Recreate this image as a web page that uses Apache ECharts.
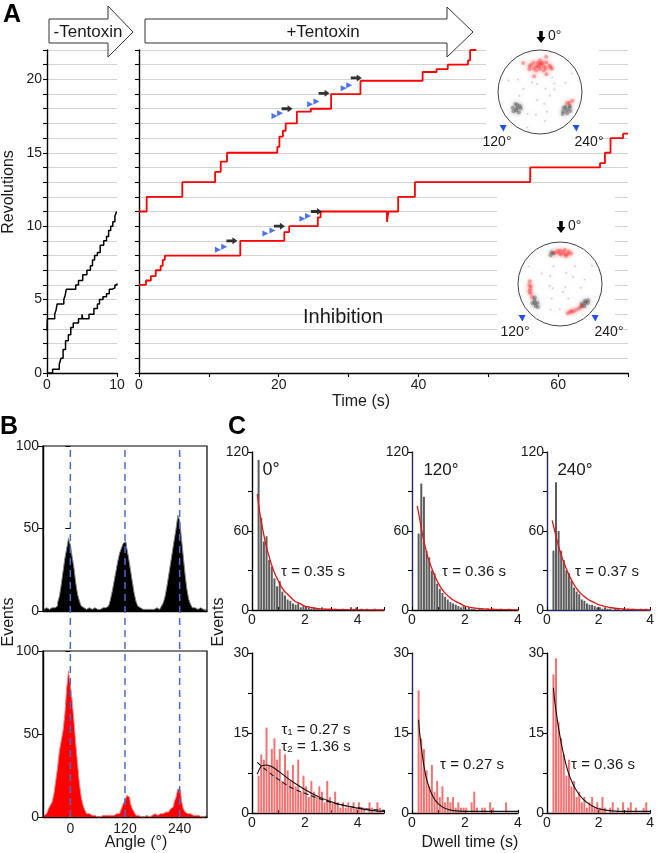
<!DOCTYPE html>
<html><head><meta charset="utf-8">
<script src="https://cdn.jsdelivr.net/npm/echarts@6.0.0/dist/echarts.min.js"></script>
<style>html,body{margin:0;padding:0;background:#fff}#c{width:657px;height:853px}</style>
</head><body><div id="c"></div>
<script>
// ---------- Panel A data (time s, revolutions) : staircase level starting at time ----------
const blackUpper = [[0,2.9],[0.05,3.7],[1.1,4.0],[1.3,4.3],[1.45,4.7],[2.4,5.0],[2.6,5.3],[2.75,5.7],[4.1,6.0],[4.5,6.3],[5.1,6.7],[5.7,7.0],[6.2,7.3],[6.5,7.7],[6.8,8.0],[7.2,8.2],[7.6,8.7],[8.1,9.0],[8.5,9.3],[8.8,9.7],[9.1,10.0],[9.4,10.3],[9.7,10.7],[9.95,11.0],[10,11.0]];
const blackLower = [[0,0],[0.8,0.25],[1.75,0.6],[2.0,1.0],[2.3,1.6],[2.65,2.2],[3.05,2.6],[3.4,3.1],[3.75,3.4],[4.5,3.7],[5.0,4.0],[5.1,3.7],[6.0,4.0],[6.7,4.4],[7.2,4.7],[7.5,5.0],[8.0,5.2],[8.5,5.4],[8.9,5.7],[9.3,5.8],[9.7,6.0],[10,6.1]];
const redUpper = [[0,11.0],[1.1,12.0],[6.2,13.0],[10.9,13.7],[11.7,14.4],[12.6,15.0],[19.8,15.4],[20.1,16.1],[20.6,16.5],[21.0,17.0],[22.6,17.8],[24.6,18.0],[27.5,19.0],[31.7,19.9],[40.6,20.5],[42.6,20.7],[44.2,21.0],[47.1,21.3],[47.4,22.0],[48.3,22.0]];
const redLower = [[0,6.0],[1.0,6.3],[1.7,6.6],[2.4,7.0],[3.1,7.3],[3.4,7.7],[3.7,8.0],[14.5,9.0],[20.8,9.6],[21.5,10.0],[25.6,10.6],[26.0,11.0],[35.5,10.3],[35.7,11.0],[37.1,12.0],[39.5,13.0],[56.0,14.0],[66.0,14.3],[66.7,15.0],[67.5,16.0],[69.3,16.3],[70,16.3]];
const blueMarks = [[19.4,17.5],[20.2,17.7],[24.5,18.3],[25.4,18.5],[29.3,19.4],[30.1,19.6],[11.3,8.4],[12.2,8.6],[18.1,9.5],[19.1,9.7],[23.4,10.5],[24.2,10.7]];
const blackMarks = [[21.2,18.0],[26.5,19.05],[31.1,20.1],[13.3,9.0],[20.1,10.0],[25.4,11.0]];
const revTicks = [0,5,10,15,20];

// polar insets: [radius fraction, angle deg]
const p1Red = [[0.65,0],[0.62,8],[0.62,-8],[0.70,4],[0.70,-5],[0.58,15],[0.58,-14],[0.68,18],[0.67,-20],[0.55,0],[0.75,0],[0.6,25],[0.62,-27],[0.72,12],[0.72,-12],[0.52,10],[0.52,-10],[0.66,22],[0.64,-23],[0.68,-2],[0.6,4],[0.8,30],[0.45,-20],[0.85,-10],[0.4,20],[0.75,250],[0.8,255],[0.7,248]];
const p1Black = [[0.67,125],[0.62,120],[0.72,128],[0.6,130],[0.75,120],[0.7,134],[0.65,116],[0.58,125],[0.78,126],[0.77,236],[0.72,230],[0.8,242],[0.7,240],[0.82,232],[0.75,226],[0.68,236],[0.85,238],[0.78,245]];
const p1Noise = [[0.3,40],[0.4,80],[0.2,160],[0.5,200],[0.35,280],[0.45,320],[0.6,60],[0.25,250],[0.55,170],[0.15,300],[0.5,100],[0.4,300],[0.3,200],[0.6,150],[0.7,190],[0.65,290],[0.8,70],[0.2,20],[0.9,160],[0.88,300]];
const p2Red = [[0.76,355],[0.72,350],[0.8,0],[0.74,345],[0.78,5],[0.7,358],[0.82,352],[0.68,348],[0.75,10],[0.8,345],[0.77,340],[0.73,2],[0.72,85],[0.73,92],[0.72,100],[0.74,108],[0.73,115],[0.7,95],[0.75,104],[0.72,195],[0.71,200],[0.73,206],[0.72,212],[0.74,218],[0.74,224],[0.7,203]];
const p2Black = [[0.75,12],[0.78,15],[0.72,18],[0.75,127],[0.72,122],[0.78,132],[0.7,130],[0.8,125],[0.68,118],[0.76,136],[0.75,233],[0.78,228],[0.72,236],[0.8,236],[0.7,228],[0.77,240],[0.74,224]];
const p2Noise = [[0.3,50],[0.4,150],[0.2,200],[0.5,260],[0.35,300],[0.45,20],[0.6,180],[0.25,100],[0.55,320],[0.15,240],[0.5,60],[0.4,210],[0.3,330],[0.6,280],[0.65,160],[0.85,60],[0.88,300],[0.2,120]];

// ---------- Panel B data : angle histograms, 4° bins from -60° ----------
const B_START = -60, B_BIN = 4;
const bTop = [1,2,1,1,2,1,2,3,5,9,16,24,32,38,44,40,33,26,17,10,6,3,2,1,1,2,1,1,2,1,2,1,2,1,2,3,4,7,12,18,24,30,35,38,41,42,38,32,25,18,11,6,3,2,1,2,1,1,2,1,1,1,2,1,2,3,5,9,15,22,29,36,43,50,58,55,44,33,22,13,7,4,2,2,1,1,2,1,1,1];
const bBot = [1,2,3,5,7,9,14,22,30,40,46,52,62,78,88,80,70,58,44,32,20,12,7,4,2,2,1,1,1,0,1,0,1,0,1,1,0,1,1,1,2,2,3,5,8,10,13,12,8,5,3,1,1,0,1,0,1,1,0,1,1,2,1,2,2,2,3,3,3,4,5,6,9,12,17,16,10,5,3,2,2,1,1,1,0,1,0,1,0,1];
const bLines = [0,120,240];
const bTickLabels = [0,120,240];

// ---------- Panel C data : dwell time histograms, 0.1 s bins from 0.2 s ----------
const C_START = 0.2, C_BIN = 0.1;
const cTop0 = [114,70,52,56,38,33,24,18,22,14,11,8,7,5,4,5,2,3,3,2,1,2,1,1,2,1,0,1,0,1,0,0,1,0,0,2,1,2,0,1,0,1,0,0,1,0,0,0];
const cTop120 = [58,96,86,45,40,30,28,20,16,13,10,8,6,5,4,3,2,3,1,2,1,1,0,1,1,0,1,0,1,0,0,1,0,0,1,0,0,0];
const cTop240 = [45,97,60,45,38,30,28,22,17,14,12,8,7,5,4,4,3,2,2,1,2,1,1,0,1,1,0,1,0,1,0,1,0,0,1,0,1,0];
const cBot0 = [7,11,10,16,9,12,14,10,12,6,11,8,6,9,5,10,4,7,5,3,6,4,3,5,4,2,6,3,2,4,2,1,2,1,2,1,2,1,2,1,1,0,2,1,0,2,1,0];
const cBot120 = [23,14,12,8,5,9,4,6,3,5,2,3,2,3,1,2,1,1,1,0,2,4,1,0,1,1,0,2,1,0,0,0,0,2,0,0,0,0];
const cBot240 = [26,29,17,14,11,7,10,5,6,3,4,2,3,1,2,3,1,2,1,3,1,0,1,2,0,1,0,2,0,1,2,0,1,0,0,1,2,0];
const fitTop0 = [[0.2,88],[0.3,73],[0.4,62],[0.5,52],[0.6,44],[0.8,31],[1.0,22],[1.2,15],[1.4,11],[1.6,7],[1.8,5],[2.0,3],[2.5,1],[3,0.5],[4,0.1],[5,0]];
const fitTop120 = [[0.2,79],[0.3,68],[0.4,57],[0.5,48],[0.6,40],[0.8,29],[1.0,20],[1.2,14],[1.4,10],[1.6,7],[1.8,5],[2.0,3],[2.5,1.2],[3,0.5],[4,0.1]];
const fitTop240 = [[0.2,68],[0.3,60],[0.4,52],[0.5,45],[0.6,39],[0.8,29],[1.0,21],[1.2,15],[1.4,11],[1.6,8],[1.8,6],[2.0,4],[2.5,1.7],[3,0.7],[4,0.1]];
const fitBot0Solid = [[0.2,7.3],[0.3,8.4],[0.4,8.9],[0.55,9.0],[0.7,8.8],[0.9,8.2],[1.2,7.1],[1.5,6.0],[2.0,4.4],[2.5,3.1],[3.0,2.1],[3.5,1.4],[4.0,0.9],[4.5,0.5],[5.0,0.3]];
const fitBot0Dash = [[0.2,9.5],[0.4,8.6],[0.6,7.8],[0.8,7.0],[1.0,6.3],[1.3,5.3],[1.6,4.5],[2.0,3.7],[2.5,2.8],[3,2.0],[3.5,1.4],[4,1.0],[4.5,0.7],[5,0.5]];
const fitBot120 = [[0.25,17.5],[0.3,14.5],[0.4,10.5],[0.5,7.5],[0.6,5.5],[0.8,3.0],[1.0,1.7],[1.2,1.0],[1.5,0.5],[2.0,0.3],[4.0,0.3]];
const fitBot240 = [[0.25,23.5],[0.3,21],[0.4,17.5],[0.5,14.5],[0.6,12],[0.8,8],[1.0,5.5],[1.2,3.8],[1.4,2.6],[1.6,1.8],[1.8,1.2],[2.0,0.8],[2.5,0.4],[3,0.3],[4,0.3]];

// ---------- chart ----------
const FONT = '"Liberation Sans", Arial, Helvetica, sans-serif';
const INK = '#1a1a1a';
const NAVY = '#26265e';
const chart = echarts.init(document.getElementById('c'), null, {renderer:'canvas'});

const lbl = (size, extra) => Object.assign({fontSize:size, color:INK, fontFamily:FONT}, extra||{});
function xA(grid, min, max, interval, o) {
  return Object.assign({type:'value', gridIndex:grid, min, max, interval,
    axisLine:{show:true, onZero:false, lineStyle:{color:'#000', width:1.4}},
    axisTick:{show:true, length:4, lineStyle:{color:'#000', width:1.1}},
    axisLabel:lbl(14,{margin:5}), splitLine:{show:false}}, o||{});
}
function yA(grid, min, max, interval, o) {
  return Object.assign({type:'value', gridIndex:grid, min, max, interval,
    axisLine:{show:true, onZero:false, lineStyle:{color:'#000', width:1.4}},
    axisTick:{show:true, length:4, lineStyle:{color:'#000', width:1.1}},
    axisLabel:lbl(14,{margin:4}), splitLine:{show:false}}, o||{});
}
const gridsC = [[252,132],[412,106],[547,106]];

const grid = [
  {left:47, top:50, width:70, height:323},
  {left:139, top:50, width:489, height:323},
  {left:43, top:446, width:164, height:165, show:true, borderColor:'#000', borderWidth:1.2, backgroundColor:'transparent'},
  {left:43, top:651, width:164, height:166, show:true, borderColor:'#000', borderWidth:1.2, backgroundColor:'transparent'},
  {left:43, top:446, width:164, height:371},
  ...gridsC.map(g => ({left:g[0], top:452, width:g[1], height:158})),
  ...gridsC.map(g => ({left:g[0], top:653, width:g[1], height:160}))
];

const revSplit = {show:true, lineStyle:{color:'#d2d2d2', width:1}};
const xAxis = [
  xA(0,0,10,10),
  xA(1,0,70,10,{axisLabel:lbl(14,{margin:5, formatter:v => v%20===0 ? String(v) : ''})}),
  xA(2,-60,300,60,{axisTick:{show:false}, axisLabel:{show:false}}),
  xA(3,-60,300,60,{axisTick:{show:false}, axisLabel:lbl(14,{margin:5, formatter:v => bTickLabels.includes(v) ? String(v) : ''})}),
  {type:'value', gridIndex:4, min:-60, max:300, show:false},
  ...[5,6,7].map((g,i) => xA(g,0,i===0?5:4,1,{axisTick:{show:true, inside:true, length:3, lineStyle:{color:'#000'}}, axisLine:{show:true, lineStyle:{color:i===2?NAVY:'#000', width:1.4}}, axisLabel:lbl(14,{margin:3, formatter:v => v%2===0 ? String(v) : ''})})),
  ...[8,9,10].map((g,i) => xA(g,0,i===0?5:4,1,{axisTick:{show:true, inside:true, length:3, lineStyle:{color:'#000'}}, axisLabel:lbl(14,{margin:3, formatter:v => v%2===0 ? String(v) : ''})}))
];
const yAxis = [
  yA(0,0,22,1,{splitLine:revSplit, axisLabel:lbl(14,{margin:5, formatter:v => revTicks.includes(v) ? String(v) : ''})}),
  yA(1,0,22,1,{splitLine:revSplit, axisLabel:{show:false}}),
  yA(2,0,100,50,{axisTick:{length:5}}),
  yA(3,0,100,50,{axisTick:{length:5}}),
  {type:'value', gridIndex:4, min:0, max:1, show:false},
  ...[5,6,7].map((g,i) => yA(g,0,120,30,{axisLine:{show:true, lineStyle:{color:i===0?'#000':NAVY, width:1.4}}, axisLabel:lbl(14,{margin:3, formatter:v => v%60===0 ? String(v) : ''})})),
  ...[8,9,10].map((g,i) => yA(g,0,30,7.5,{axisLine:{show:true, lineStyle:{color:i===1?NAVY:'#000', width:1.4}}, axisLabel:lbl(14,{margin:3, formatter:v => v%15===0 ? String(v) : ''})})),
  {type:'value', gridIndex:2, position:'right', min:0, max:100, interval:50, axisLine:{show:false}, axisTick:{show:true, inside:true, length:5, lineStyle:{color:'#000'}}, axisLabel:{show:false}, splitLine:{show:false}},
  {type:'value', gridIndex:3, position:'right', min:0, max:100, interval:50, axisLine:{show:false}, axisTick:{show:true, inside:true, length:5, lineStyle:{color:'#000'}}, axisLabel:{show:false}, splitLine:{show:false}}
];

const polar = [{center:[540,92], radius:42}, {center:[560,284], radius:42}];
const angleAxis = [0,1].map(i => ({polarIndex:i, type:'value', min:0, max:360, startAngle:90, clockwise:false, z:6,
  axisLine:{show:true, lineStyle:{color:'#444', width:1}}, axisTick:{show:false}, axisLabel:{show:false}, splitLine:{show:false}}));
const radiusAxis = [0,1].map(i => ({polarIndex:i, type:'value', min:0, max:1, show:false, axisLine:{show:false}, splitLine:{show:false}}));

const stepLine = (xi, data, color, w) => ({type:'line', xAxisIndex:xi, yAxisIndex:xi, step:'end', data, symbol:'none', lineStyle:{color, width:w}, z:3, silent:true});
const cloud = (pi, data, color, size, op) => ({type:'scatter', coordinateSystem:'polar', polarIndex:pi, data: data.map(d => [d[0], (d[1]+360)%360]), symbolSize:size, itemStyle:{color, opacity:op, shadowBlur:4, shadowColor:color}, z:7, silent:true});
const binsB = vals => vals.map((v,i) => [B_START + B_BIN*(i+0.5), v]);
const binsC = vals => vals.map((v,i) => [+(C_START + C_BIN*(i+0.5)).toFixed(3), v]);
const cBar = (ix, vals, color) => ({type:'bar', xAxisIndex:ix, yAxisIndex:ix, data:binsC(vals), barWidth:2, itemStyle:{color}, z:2, silent:true});
const cFit = (ix, data, color, w, dashed) => ({type:'line', xAxisIndex:ix, yAxisIndex:ix, data, smooth:true, symbol:'none', lineStyle:{color, width:w, type: dashed ? [5,3] : 'solid'}, z:4, silent:true});

const series = [
  stepLine(0, blackUpper, '#000', 1.5),
  stepLine(0, blackLower, '#000', 1.5),
  stepLine(1, redUpper, '#ff0000', 1.8),
  stepLine(1, redLower, '#ff0000', 1.8),
  {type:'scatter', xAxisIndex:1, yAxisIndex:1, data:blueMarks, symbol:'triangle', symbolSize:6, symbolRotate:-90, itemStyle:{color:'#1f4fe8'}, z:5, silent:true},
  {type:'scatter', xAxisIndex:1, yAxisIndex:1, data:blackMarks, symbol:'path://M0,3L6,3L6,0L11,5L6,10L6,7L0,7Z', symbolSize:[11,7], itemStyle:{color:'#000'}, z:5, silent:true},
  cloud(0, p1Noise, '#b0b0b0', 2, 0.5),
  cloud(1, p2Noise, '#b0b0b0', 2, 0.5),
  cloud(0, p1Black, '#3a3a3a', 4, 0.35),
  cloud(0, p1Red, '#ff2020', 4, 0.35),
  cloud(1, p2Black, '#3a3a3a', 4, 0.35),
  cloud(1, p2Red, '#ff2020', 4, 0.35),
  {type:'line', xAxisIndex:2, yAxisIndex:2, step:'middle', data:binsB(bTop), symbol:'none', lineStyle:{color:'#8a8a8a', width:1}, areaStyle:{color:'#000', opacity:1}, z:2, silent:true},
  {type:'line', xAxisIndex:3, yAxisIndex:3, step:'middle', data:binsB(bBot), symbol:'none', lineStyle:{color:'#f08a8a', width:1}, areaStyle:{color:'#ff0000', opacity:1}, z:2, silent:true},
  ...bLines.map(x => ({type:'line', xAxisIndex:4, yAxisIndex:4, data:[[x,0],[x,1]], symbol:'none', lineStyle:{color:'#4a6ad0', width:1.5, type:[7,5]}, z:6, silent:true})),
  cBar(5, cTop0, '#5c5c5c'), cBar(6, cTop120, '#5c5c5c'), cBar(7, cTop240, '#5c5c5c'),
  cBar(8, cBot0, '#f27272'), cBar(9, cBot120, '#f27272'), cBar(10, cBot240, '#f27272'),
  cFit(5, fitTop0, '#e01818', 1.3), cFit(6, fitTop120, '#e01818', 1.3), cFit(7, fitTop240, '#e01818', 1.3),
  cFit(8, fitBot0Solid, '#111', 1.1), cFit(8, fitBot0Dash, '#111', 1.1, true),
  cFit(9, fitBot120, '#111', 1.1), cFit(10, fitBot240, '#111', 1.1)
];

const T = (x, y, text, size, o) => Object.assign({type:'text', x, y, z:20, silent:true,
  style:{text, fontSize:size, fontFamily:FONT, fill:INK, align:'center', verticalAlign:'middle', textAlign:'center', textVerticalAlign:'middle'}}, o||{});
const TB = (x, y, text) => T(x, y, text, 25, {style:{text, fontSize:25, fontWeight:'bold', fontFamily:FONT, fill:'#000', align:'center', verticalAlign:'middle'}});
const poly = (pts, fill, stroke, z) => ({type:'polygon', z:z||20, silent:true, shape:{points:pts}, style:{fill, stroke:stroke||null, lineWidth:1}});
const downArrow = (cx, cy) => poly([[cx-1.8,cy-6],[cx+1.8,cy-6],[cx+1.8,cy],[cx+4.5,cy],[cx,cy+6],[cx-4.5,cy],[cx-1.8,cy]], '#000');
const blueTri = (cx, cy) => poly([[cx-3.5,cy-3],[cx+3.5,cy-3],[cx+0.5,cy+3.5]], '#1f4fe8');

const graphic = [
  {type:'rect', z:1, silent:true, shape:{x:486, y:44, width:113, height:102}, style:{fill:'#fff'}},
  {type:'rect', z:1, silent:true, shape:{x:497, y:190, width:118, height:146}, style:{fill:'#fff'}},
  poly([[49,19],[108,19],[108,6],[133,32],[108,57],[108,43],[49,43]], '#fff', '#333', 10),
  poly([[145,19],[447,19],[447,7],[473,32],[447,57],[447,43],[145,43]], '#fff', '#333', 10),
  T(88, 32, '-Tentoxin', 17),
  T(323, 32, '+Tentoxin', 17),
  TB(12, 15, 'A'), TB(9, 427, 'B'), TB(237, 427, 'C'),
  T(9, 192, 'Revolutions', 16, {rotation:Math.PI/2}),
  T(361, 402, 'Time (s)', 16),
  T(343, 317, 'Inhibition', 20),
  downArrow(541, 37), T(555, 36, '0°', 14, {style:{text:'0°', fontSize:14, fontFamily:FONT, fill:INK, align:'left', verticalAlign:'middle'}, x:548}),
  blueTri(503, 128), T(497, 142, '120°', 14),
  blueTri(576, 128), T(589, 142, '240°', 14),
  downArrow(561, 227), T(568, 226, '0°', 14, {style:{text:'0°', fontSize:14, fontFamily:FONT, fill:INK, align:'left', verticalAlign:'middle'}}),
  blueTri(522, 318), T(515, 332, '120°', 14),
  blueTri(595, 318), T(609, 332, '240°', 14),
  T(9, 622, 'Events', 16, {rotation:Math.PI/2}),
  T(136, 843, 'Angle (°)', 16),
  T(219, 622, 'Events', 16, {rotation:Math.PI/2}),
  T(470, 843, 'Dwell time (s)', 16),
  T(271, 470, '0°', 18), T(441, 470, '120°', 17), T(575, 470, '240°', 17),
  T(313, 572, 'τ = 0.35 s', 15), T(474, 572, 'τ = 0.36 s', 15), T(607, 572, 'τ = 0.37 s', 15),
  T(316, 730, 'τ₁ = 0.27 s', 15), T(316, 747, 'τ₂ = 1.36 s', 15),
  T(472, 765, 'τ = 0.27 s', 15), T(603, 765, 'τ = 0.36 s', 15)
];

chart.setOption({animation:false, backgroundColor:'#fff', textStyle:{fontFamily:FONT},
  grid, xAxis, yAxis, polar, angleAxis, radiusAxis, series, graphic});
</script></body></html>
